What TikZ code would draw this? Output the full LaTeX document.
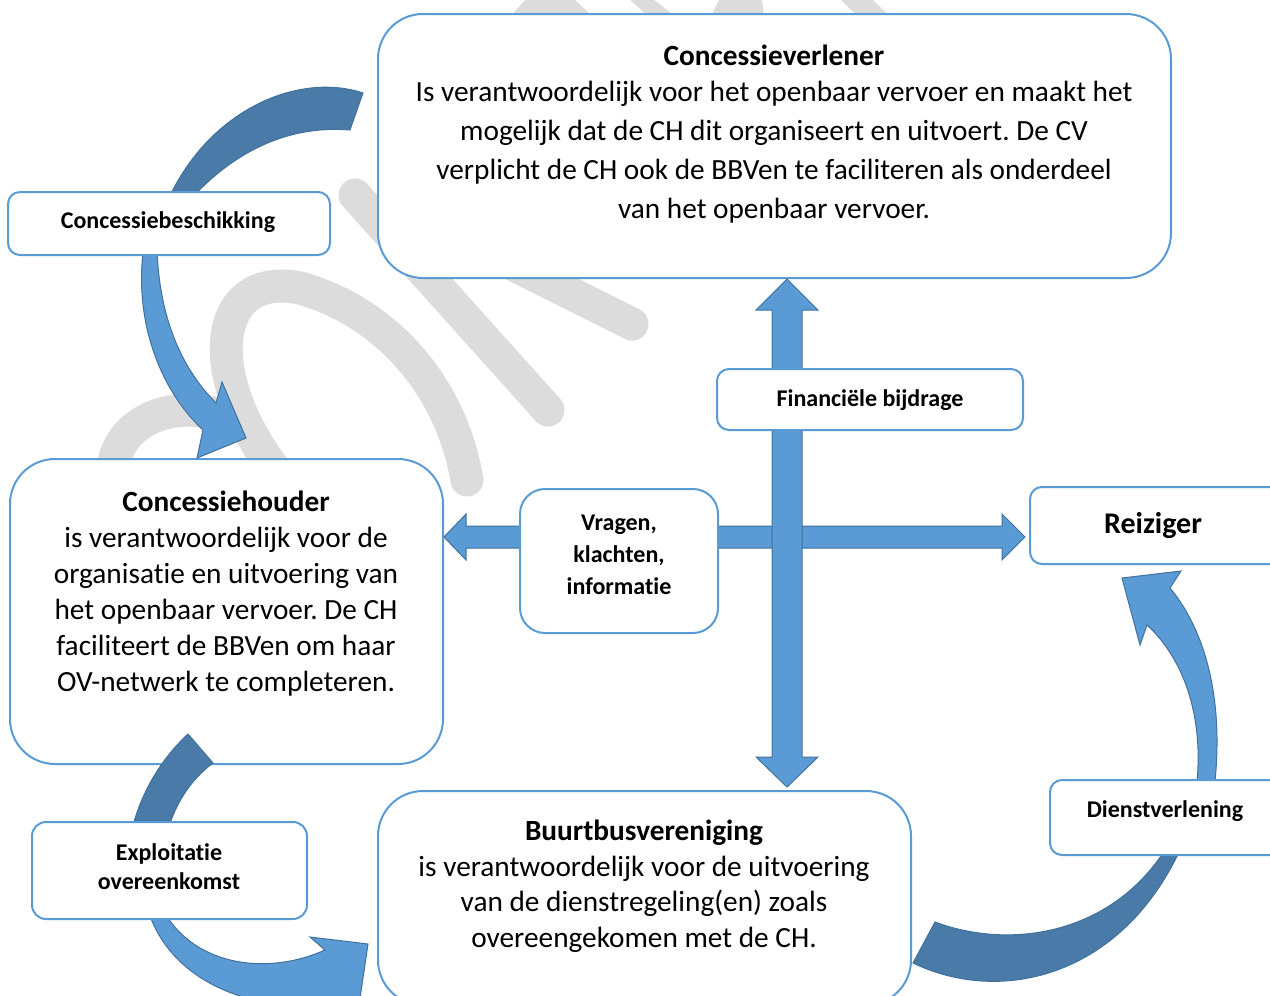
\documentclass[tikz,border=0pt]{standalone}
\usepackage{fontspec}
\setmainfont{Carlito}[Ligatures=CommonOff]
\frenchspacing
\definecolor{boxblue}{HTML}{5B9BD5}
\definecolor{arrfill}{HTML}{5B9BD5}
\definecolor{arrline}{HTML}{41719C}
\definecolor{arrdark}{HTML}{4A7BA8}
\definecolor{wm}{HTML}{DCDCDC}
\begin{document}
\begin{tikzpicture}[x=1pt,y=-1pt,
  bigbox/.style={draw=boxblue, line width=2pt, fill=white, rounded corners=45pt, inner sep=0pt, outer sep=0pt},
  lblbox/.style={draw=boxblue, line width=2pt, fill=white, rounded corners=12pt, inner sep=0pt, outer sep=0pt},
  arrfront/.style={fill=arrfill, draw=arrline, line width=1pt, line join=miter},
  arrback/.style={fill=arrdark, draw=arrline, line width=1pt, line join=miter},
  wmstroke/.style={draw=wm, line width=33pt, line cap=round},
  bodytxt/.style={anchor=base, align=center, inner sep=0pt},
  lbltxt/.style={anchor=base, align=center, inner sep=0pt, font=\bfseries\fontsize{24}{32}\selectfont}]
\useasboundingbox (0,0) rectangle (1270,996);
\clip (0,0) rectangle (1270,996);
\fill[white] (0,0) rectangle (1270,996);

% watermark
\draw[wmstroke] (113,475) .. controls (112,425) and (170,395) .. (228,418);
\draw[wmstroke] (283,480) .. controls (200,380) and (210,270) .. (300,288) .. controls (380,310) and (450,380) .. (467,480);
\draw[wmstroke] (355,195) -- (548,410);
\draw[wmstroke] (440,228) -- (632,324);
\fill[wm] (511,16) -- (525,0) -- (575,0) -- (592,16) -- cycle;
\fill[wm] (630,0) -- (654,0) -- (675,16) -- (648,16) -- cycle;
\fill[wm] (719,0) -- (762,0) -- (764,16) -- (711,16) -- cycle;
\fill[wm] (841,0) -- (873,0) -- (889,16) -- (857,16) -- cycle;

% big boxes
\node[bigbox, minimum width=793pt, minimum height=264pt] (cvbox) at (774.5,146) {};
\node[bigbox, minimum width=433pt, minimum height=305pt] (chbox) at (226.5,611.5) {};
\node[bigbox, minimum width=533pt, minimum height=214pt] (bbbox) at (644.5,898) {};
\node[lblbox, minimum width=260pt, minimum height=77pt] (reibox) at (1160,525.5) {};

% curved arrows
\draw[arrback] (363,93) .. controls (300,72) and (210,108) .. (168,200) -- (190,200) .. controls (235,150) and (290,125) .. (350,130) -- cycle;
\draw[arrfront] (144,245) .. controls (133,320) and (160,390) .. (203,430) -- (197,458) -- (246,438) -- (222,382) -- (216,403) .. controls (178,365) and (158,310) .. (157,245) -- cycle;

\draw[arrback] (188,734) .. controls (160,760) and (140,795) .. (132,830) -- (168,830) .. controls (175,805) and (190,780) .. (213,763) -- cycle;
\draw[arrfront] (148,910) .. controls (165,965) and (220,1003) .. (300,1006) -- (345,1002) -- (358,1012) -- (368,944) -- (310,937) -- (325,950) .. controls (270,975) and (195,968) .. (163,910) -- cycle;

\draw[arrback] (913,963) .. controls (1000,1005) and (1120,978) .. (1180,850) -- (1165,850) .. controls (1110,935) and (1010,950) .. (935,922) -- cycle;
\draw[arrfront] (1214,790) .. controls (1225,700) and (1205,630) .. (1170,588) -- (1181,571) -- (1122,578) -- (1140,645) -- (1147,625) .. controls (1185,660) and (1205,720) .. (1196,790) -- cycle;

% cross arrows
\draw[arrfront] (444,537) -- (466,514) -- (466,526) -- (1002,526) -- (1002,514) -- (1025,537) -- (1002,560) -- (1002,548) -- (466,548) -- (466,560) -- cycle;
\draw[arrfront] (787,279) -- (818,310) -- (802,310) -- (802,757) -- (818,757) -- (787,787) -- (756,757) -- (772,757) -- (772,310) -- (756,310) -- cycle;

% label boxes
\node[lblbox, minimum width=322pt, minimum height=63pt] (cbbox) at (169,223.5) {};
\node[lblbox, minimum width=306pt, minimum height=61pt] (fbbox) at (870,399.5) {};
\node[lblbox, rounded corners=25pt, minimum width=198pt, minimum height=144pt] (vrbox) at (619,561) {};
\node[lblbox, minimum width=240pt, minimum height=75pt] (dvbox) at (1170,817.5) {};
\node[lblbox, rounded corners=14pt, minimum width=275pt, minimum height=97pt] (expbox) at (169.5,870.5) {};

% texts (anchor base = baseline of last line)
\node[bodytxt, font=\fontsize{29.3}{39}\selectfont] (cvtxt) at (774,218) {\textbf{Concessieverlener}\\[-3pt]
Is verantwoordelijk voor het openbaar vervoer en maakt het\\
mogelijk dat de CH dit organiseert en uitvoert. De CV\\
verplicht de CH ook de BBVen te faciliteren als onderdeel\\
van het openbaar vervoer.};
\node[bodytxt, font=\fontsize{29.3}{36}\selectfont] (chtxt) at (226,691) {\textbf{Concessiehouder}\\
is verantwoordelijk voor de\\
organisatie en uitvoering van\\
het openbaar vervoer. De CH\\
faciliteert de BBVen om haar\\
OV-netwerk te completeren.};
\node[bodytxt, font=\fontsize{29.3}{35.5}\selectfont] (bbtxt) at (644,947) {\textbf{Buurtbusvereniging}\\
is verantwoordelijk voor de uitvoering\\
van de dienstregeling(en) zoals\\
overeengekomen met de CH.};
\node[lbltxt] (cbtxt) at (168,228) {Concessiebeschikking};
\node[lbltxt] (fbtxt) at (870,406) {Financiële bijdrage};
\node[lbltxt] (vrtxt) at (619,594) {Vragen,\\klachten,\\informatie};
\node[lbltxt, font=\bfseries\fontsize{30}{36}\selectfont] (reitxt) at (1153,533) {Reiziger};
\node[lbltxt] (dvtxt) at (1165,817) {Dienstverlening};
\node[lbltxt, font=\bfseries\fontsize{24}{29}\selectfont] (exptxt) at (169,889) {Exploitatie\\overeenkomst};
\end{tikzpicture}
\end{document}
